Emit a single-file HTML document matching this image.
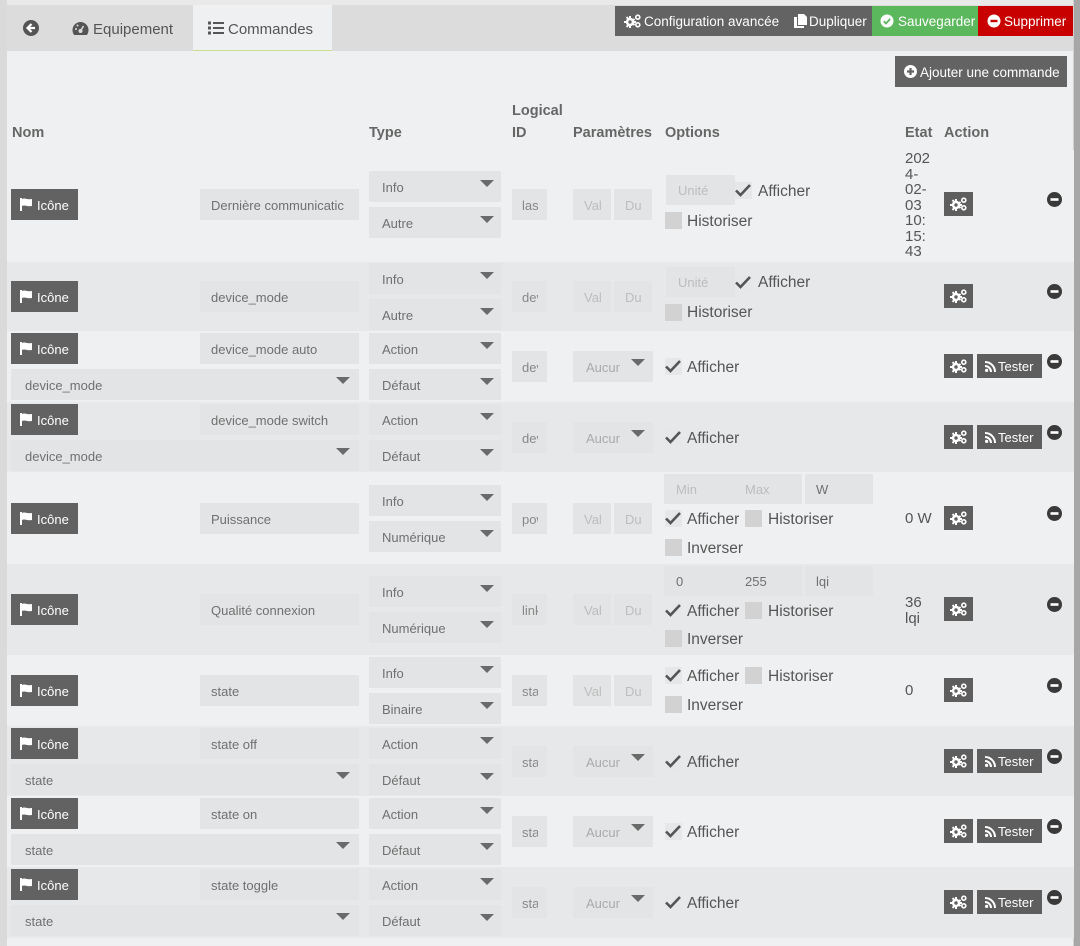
<!DOCTYPE html>
<html><head><meta charset="utf-8"><style>
*{box-sizing:border-box;margin:0;padding:0}
body{width:1080px;height:946px;overflow:hidden;position:relative;background:#eff0f1;font-family:"Liberation Sans",Arial,sans-serif;color:#666}
div{position:absolute}
svg{display:block}
.L{left:7px;width:1067px;background:#eff0f1}
.D{left:7px;width:1067px;background:#e7e8e9}
.in{background:#e3e4e5;height:31px;line-height:33px;font-size:13px;color:#707070;padding-left:11px;white-space:nowrap;overflow:hidden}
.ph{color:#bdbdbd}
.lg{color:#888}
.lg div{position:absolute;left:10px;top:0;width:16px;height:31px;overflow:hidden}
.cr{width:0;height:0;border-left:7px solid transparent;border-right:7px solid transparent;border-top:7px solid #6a6a6a;top:9px;right:7px}
.ic{left:11px;width:67px;height:31px;background:#626262;color:#fff;font-size:13px;line-height:33px}
.ic svg{position:absolute;left:9px;top:9px}
.ic b{position:absolute;left:26px;font-weight:normal}
.gr{left:944px;width:29px;height:24px;background:#5e5e5e}
.gr svg{position:absolute;left:6px;top:5px}
.ts{left:977px;width:65px;height:24px;background:#5e5e5e;color:#fff;font-size:13px;line-height:26px}
.ts svg{position:absolute;left:8px;top:7px}
.ts b{position:absolute;left:21px;font-weight:normal}
.mn{left:1047px;width:15px;height:15px}
.cb{width:17px;height:17px;background:#d2d2d2}
.ck{width:17px;height:17px;background:#e6e7e8}
.ck svg{position:absolute;left:-1px;top:0}
.lb{font-size:15.5px;color:#555;line-height:18px;white-space:nowrap}
.hd{font-size:14.5px;font-weight:bold;color:#666;line-height:18px;white-space:nowrap}
.et{left:905px;font-size:15px;color:#555;line-height:15.5px;white-space:nowrap}
.tb{top:6px;height:30px;line-height:32px;font-size:13.5px;color:#fff;white-space:nowrap}
.tb svg{position:absolute;top:8px}
.tb b{position:absolute;font-weight:normal}
.au{left:13px;top:0;width:34px;height:31px;overflow:hidden;color:#aaa}
</style></head><body>

<!-- frame -->
<div style="left:0;top:0;width:1080px;height:5px;background:#e9e9e9"></div>
<div style="left:7px;top:5px;width:1067px;height:46px;background:#dcdcdc"></div>
<div style="left:0;top:0;width:7px;height:946px;background:#dadada"></div>
<div style="left:1073px;top:0;width:1px;height:946px;background:#d0d0d0"></div>
<div style="left:1074px;top:0;width:6px;height:946px;background:#a7a7a7"></div>

<!-- tabs -->
<div style="left:23px;top:20px;width:16px;height:16px"><svg width="16" height="16"><circle cx="8" cy="8" r="8" fill="#555"/><path d="M8.5 4L4.5 8l4 4M4.8 8H12" stroke="#fff" stroke-width="2.2" fill="none"/></svg></div>
<div style="left:72px;top:21px;width:17px;height:15px"><svg width="17" height="15"><path d="M8.5 1A8 8 0 0 0 .5 9c0 2 .6 3.6 1.6 5h12.8c1-1.4 1.6-3 1.6-5a8 8 0 0 0-8-8z" fill="#555"/><circle cx="8.5" cy="10" r="2" fill="#dcdcdc"/><path d="M8.5 10l3-5" stroke="#dcdcdc" stroke-width="1.5"/><circle cx="4" cy="8" r="1" fill="#dcdcdc"/><circle cx="5.5" cy="4.5" r="1" fill="#dcdcdc"/></svg></div>
<div class="lb" style="left:93px;top:21px;font-size:15px">Equipement</div>
<div style="left:193px;top:5px;width:139px;height:46px;background:#eff0f1;border-bottom:1px solid #c9de8c"></div>
<div style="left:208px;top:21px;width:16px;height:14px"><svg width="16" height="14"><g fill="#555"><rect x="0" y="0.5" width="3" height="3"/><rect x="0" y="5.5" width="3" height="3"/><rect x="0" y="10.5" width="3" height="3"/><rect x="5" y="1" width="11" height="2"/><rect x="5" y="6" width="11" height="2"/><rect x="5" y="11" width="11" height="2"/></g></svg></div>
<div class="lb" style="left:228px;top:21px;font-size:15px">Commandes</div>

<!-- top buttons -->
<div class="tb" style="left:615px;width:172px;background:#636363"><svg style="left:9px" width="17" height="14" viewBox="0 0 17 14"><g fill="#fff"><circle cx="6" cy="8" r="4.2"/><path d="M5 2h2v12H5zM0 7h12v2H0z"/><path d="M1.8 3.8l1.4-1.4 8 8-1.4 1.4zM1.8 12.2l8-8 1.4 1.4-8 8z"/></g><circle cx="6" cy="8" r="1.7" fill="#636363"/><circle cx="13.8" cy="3.2" r="2" fill="none" stroke="#fff" stroke-width="1.6"/><circle cx="13.8" cy="10.8" r="2" fill="none" stroke="#fff" stroke-width="1.6"/></svg><b style="left:29px">Configuration avancée</b></div>
<div class="tb" style="left:787px;width:85px;background:#636363"><svg style="left:7px" width="13" height="14"><path d="M4 0h6l3 3v8H4z" fill="#fff"/><path d="M0 3h3v9h7v2H0z" fill="#fff"/></svg><b style="left:22px">Dupliquer</b></div>
<div class="tb" style="left:872px;width:106px;background:#5cb85c"><svg style="left:8px" width="14" height="14"><circle cx="7" cy="7" r="6.5" fill="#fff"/><path d="M3.8 7.2l2.2 2.2 4.2-4.4" stroke="#5cb85c" stroke-width="1.8" fill="none"/></svg><b style="left:26px">Sauvegarder</b></div>
<div class="tb" style="left:978px;width:95px;background:#c80000"><svg style="left:9px" width="14" height="14"><circle cx="7" cy="7" r="6.5" fill="#fff"/><rect x="3.5" y="5.8" width="7" height="2.4" fill="#c80000"/></svg><b style="left:26px">Supprimer</b></div>

<!-- ajouter -->
<div class="tb" style="left:895px;top:56px;width:172px;height:31px;line-height:33px;background:#636363"><svg style="left:9px;top:9px" width="13" height="13"><circle cx="6.5" cy="6.5" r="6.5" fill="#fff"/><path d="M6.5 3v7M3 6.5h7" stroke="#636363" stroke-width="2.2"/></svg><b style="left:25px">Ajouter une commande</b></div>

<!-- headers -->
<div class="hd" style="left:12px;top:124px">Nom</div>
<div class="hd" style="left:369px;top:124px">Type</div>
<div class="hd" style="left:512px;top:102px">Logical</div>
<div class="hd" style="left:512px;top:124px">ID</div>
<div class="hd" style="left:573px;top:124px">Paramètres</div>
<div class="hd" style="left:665px;top:124px">Options</div>
<div class="hd" style="left:905px;top:124px">Etat</div>
<div class="hd" style="left:944px;top:124px">Action</div>

<!-- row backgrounds -->
<div class="L" style="top:150px;height:112px"></div>
<div class="D" style="top:262px;height:69px"></div>
<div class="L" style="top:331px;height:71px"></div>
<div class="D" style="top:402px;height:70px"></div>
<div class="L" style="top:472px;height:92px"></div>
<div class="D" style="top:564px;height:91px"></div>
<div class="L" style="top:655px;height:71px"></div>
<div class="D" style="top:726px;height:70px"></div>
<div class="L" style="top:796px;height:71px"></div>
<div class="D" style="top:867px;height:71px"></div>

<!-- ===== R1 (s=171) ===== -->
<div class="ic" style="top:189px"><svg width="13" height="13"><path d="M0 0h2v13H0zM2 1c3-1.5 5 1 10 0v7c-5 1-7-1.5-10 0z" fill="#fff"/></svg><b>Icône</b></div>
<div class="in" style="left:200px;top:189px;width:159px">Dernière communicatic</div>
<div class="in" style="left:369px;top:171px;width:132px;padding-left:13px">Info<div class="cr"></div></div>
<div class="in" style="left:369px;top:207px;width:132px;padding-left:13px">Autre<div class="cr"></div></div>
<div class="in lg" style="left:512px;top:189px;width:35px"><div>last</div></div>
<div class="in ph" style="left:573px;top:189px;width:38px">Val</div>
<div class="in ph" style="left:614px;top:189px;width:38px">Du</div>
<div class="in ph" style="left:666px;top:175px;width:69px;height:30px;line-height:32px;padding-left:12px">Unité</div>
<div class="ck" style="left:735px;top:182px"><svg width="18" height="17"><path d="M2 8.5l4.5 4.5L16 3" stroke="#555" stroke-width="2.6" fill="none"/></svg></div>
<div class="lb" style="left:758px;top:183px">Afficher</div>
<div class="cb" style="left:665px;top:212px"></div>
<div class="lb" style="left:687px;top:213px">Historiser</div>
<div class="et" style="top:151px">202<br>4-<br>02-<br>03<br>10:<br>15:<br>43</div>
<div class="gr" style="top:192px"><svg width="17" height="14" viewBox="0 0 17 14"><g fill="#fff"><circle cx="6" cy="8" r="4.2"/><path d="M5 2h2v12H5zM0 7h12v2H0z"/><path d="M1.8 3.8l1.4-1.4 8 8-1.4 1.4zM1.8 12.2l8-8 1.4 1.4-8 8z"/></g><circle cx="6" cy="8" r="1.7" fill="#5e5e5e"/><circle cx="13.8" cy="3.2" r="2" fill="none" stroke="#fff" stroke-width="1.6"/><circle cx="13.8" cy="10.8" r="2" fill="none" stroke="#fff" stroke-width="1.6"/></svg></div>
<div class="mn" style="top:192px"><svg width="15" height="15"><circle cx="7.5" cy="7.5" r="7.5" fill="#3a3a3a"/><rect x="3.5" y="6.2" width="8" height="2.6" fill="#fff"/></svg></div>

<!-- ===== R2 (s=263) ===== -->
<div class="ic" style="top:281px"><svg width="13" height="13"><path d="M0 0h2v13H0zM2 1c3-1.5 5 1 10 0v7c-5 1-7-1.5-10 0z" fill="#fff"/></svg><b>Icône</b></div>
<div class="in" style="left:200px;top:281px;width:159px">device_mode</div>
<div class="in" style="left:369px;top:263px;width:132px;padding-left:13px">Info<div class="cr"></div></div>
<div class="in" style="left:369px;top:299px;width:132px;padding-left:13px">Autre<div class="cr"></div></div>
<div class="in lg" style="left:512px;top:281px;width:35px"><div>device_mode</div></div>
<div class="in ph" style="left:573px;top:281px;width:38px">Val</div>
<div class="in ph" style="left:614px;top:281px;width:38px">Du</div>
<div class="in ph" style="left:666px;top:267px;width:69px;height:30px;line-height:32px;padding-left:12px">Unité</div>
<div class="ck" style="left:735px;top:274px"><svg width="18" height="17"><path d="M2 8.5l4.5 4.5L16 3" stroke="#555" stroke-width="2.6" fill="none"/></svg></div>
<div class="lb" style="left:758px;top:274px">Afficher</div>
<div class="cb" style="left:665px;top:304px"></div>
<div class="lb" style="left:687px;top:304px">Historiser</div>
<div class="gr" style="top:284px"><svg width="17" height="14" viewBox="0 0 17 14"><g fill="#fff"><circle cx="6" cy="8" r="4.2"/><path d="M5 2h2v12H5zM0 7h12v2H0z"/><path d="M1.8 3.8l1.4-1.4 8 8-1.4 1.4zM1.8 12.2l8-8 1.4 1.4-8 8z"/></g><circle cx="6" cy="8" r="1.7" fill="#5e5e5e"/><circle cx="13.8" cy="3.2" r="2" fill="none" stroke="#fff" stroke-width="1.6"/><circle cx="13.8" cy="10.8" r="2" fill="none" stroke="#fff" stroke-width="1.6"/></svg></div>
<div class="mn" style="top:284px"><svg width="15" height="15"><circle cx="7.5" cy="7.5" r="7.5" fill="#3a3a3a"/><rect x="3.5" y="6.2" width="8" height="2.6" fill="#fff"/></svg></div>

<!-- ===== R3 (T=331) ===== -->
<div class="ic" style="top:333px"><svg width="13" height="13"><path d="M0 0h2v13H0zM2 1c3-1.5 5 1 10 0v7c-5 1-7-1.5-10 0z" fill="#fff"/></svg><b>Icône</b></div>
<div class="in" style="left:200px;top:333px;width:159px">device_mode auto</div>
<div class="in" style="left:369px;top:333px;width:132px;padding-left:13px">Action<div class="cr"></div></div>
<div class="in" style="left:11px;top:369px;width:348px;padding-left:14px">device_mode<div class="cr" style="top:8px;right:9px"></div></div>
<div class="in" style="left:369px;top:369px;width:132px;padding-left:13px">Défaut<div class="cr"></div></div>
<div class="in lg" style="left:512px;top:351px;width:35px"><div>device_mode</div></div>
<div class="in ph" style="left:573px;top:351px;width:80px;padding-left:0"><div class="au">Aucun</div><div class="cr" style="right:8px;top:8px"></div></div>
<div class="ck" style="left:665px;top:358px"><svg width="18" height="17"><path d="M2 8.5l4.5 4.5L16 3" stroke="#555" stroke-width="2.6" fill="none"/></svg></div>
<div class="lb" style="left:687px;top:359px">Afficher</div>
<div class="gr" style="top:354px"><svg width="17" height="14" viewBox="0 0 17 14"><g fill="#fff"><circle cx="6" cy="8" r="4.2"/><path d="M5 2h2v12H5zM0 7h12v2H0z"/><path d="M1.8 3.8l1.4-1.4 8 8-1.4 1.4zM1.8 12.2l8-8 1.4 1.4-8 8z"/></g><circle cx="6" cy="8" r="1.7" fill="#5e5e5e"/><circle cx="13.8" cy="3.2" r="2" fill="none" stroke="#fff" stroke-width="1.6"/><circle cx="13.8" cy="10.8" r="2" fill="none" stroke="#fff" stroke-width="1.6"/></svg></div>
<div class="ts" style="top:354px"><svg width="11" height="11"><circle cx="1.6" cy="9.4" r="1.6" fill="#fff"/><path d="M0 5a6 6 0 0 1 6 6M0 1a10 10 0 0 1 10 10" stroke="#fff" stroke-width="2" fill="none"/></svg><b>Tester</b></div>
<div class="mn" style="top:354px"><svg width="15" height="15"><circle cx="7.5" cy="7.5" r="7.5" fill="#3a3a3a"/><rect x="3.5" y="6.2" width="8" height="2.6" fill="#fff"/></svg></div>

<!-- ===== R4 (T=402) ===== -->
<div class="ic" style="top:404px"><svg width="13" height="13"><path d="M0 0h2v13H0zM2 1c3-1.5 5 1 10 0v7c-5 1-7-1.5-10 0z" fill="#fff"/></svg><b>Icône</b></div>
<div class="in" style="left:200px;top:404px;width:159px">device_mode switch</div>
<div class="in" style="left:369px;top:404px;width:132px;padding-left:13px">Action<div class="cr"></div></div>
<div class="in" style="left:11px;top:440px;width:348px;padding-left:14px">device_mode<div class="cr" style="top:8px;right:9px"></div></div>
<div class="in" style="left:369px;top:440px;width:132px;padding-left:13px">Défaut<div class="cr"></div></div>
<div class="in lg" style="left:512px;top:422px;width:35px"><div>device_mode</div></div>
<div class="in ph" style="left:573px;top:422px;width:80px;padding-left:0"><div class="au">Aucun</div><div class="cr" style="right:8px;top:8px"></div></div>
<div class="ck" style="left:665px;top:429px"><svg width="18" height="17"><path d="M2 8.5l4.5 4.5L16 3" stroke="#555" stroke-width="2.6" fill="none"/></svg></div>
<div class="lb" style="left:687px;top:430px">Afficher</div>
<div class="gr" style="top:425px"><svg width="17" height="14" viewBox="0 0 17 14"><g fill="#fff"><circle cx="6" cy="8" r="4.2"/><path d="M5 2h2v12H5zM0 7h12v2H0z"/><path d="M1.8 3.8l1.4-1.4 8 8-1.4 1.4zM1.8 12.2l8-8 1.4 1.4-8 8z"/></g><circle cx="6" cy="8" r="1.7" fill="#5e5e5e"/><circle cx="13.8" cy="3.2" r="2" fill="none" stroke="#fff" stroke-width="1.6"/><circle cx="13.8" cy="10.8" r="2" fill="none" stroke="#fff" stroke-width="1.6"/></svg></div>
<div class="ts" style="top:425px"><svg width="11" height="11"><circle cx="1.6" cy="9.4" r="1.6" fill="#fff"/><path d="M0 5a6 6 0 0 1 6 6M0 1a10 10 0 0 1 10 10" stroke="#fff" stroke-width="2" fill="none"/></svg><b>Tester</b></div>
<div class="mn" style="top:425px"><svg width="15" height="15"><circle cx="7.5" cy="7.5" r="7.5" fill="#3a3a3a"/><rect x="3.5" y="6.2" width="8" height="2.6" fill="#fff"/></svg></div>

<!-- ===== R5 Puissance (s=485) ===== -->
<div class="ic" style="top:503px"><svg width="13" height="13"><path d="M0 0h2v13H0zM2 1c3-1.5 5 1 10 0v7c-5 1-7-1.5-10 0z" fill="#fff"/></svg><b>Icône</b></div>
<div class="in" style="left:200px;top:503px;width:159px">Puissance</div>
<div class="in" style="left:369px;top:485px;width:132px;padding-left:13px">Info<div class="cr"></div></div>
<div class="in" style="left:369px;top:521px;width:132px;padding-left:13px">Numérique<div class="cr"></div></div>
<div class="in lg" style="left:512px;top:503px;width:35px"><div>power</div></div>
<div class="in ph" style="left:573px;top:503px;width:38px">Val</div>
<div class="in ph" style="left:614px;top:503px;width:38px">Du</div>
<div class="in ph" style="left:664px;top:474px;width:69px;height:30px;line-height:32px;padding-left:12px">Min</div>
<div class="in ph" style="left:733px;top:474px;width:69px;height:30px;line-height:32px;padding-left:12px">Max</div>
<div class="in" style="left:805px;top:474px;width:68px;height:30px;line-height:32px;padding-left:11px">W</div>
<div class="ck" style="left:665px;top:510px"><svg width="18" height="17"><path d="M2 8.5l4.5 4.5L16 3" stroke="#555" stroke-width="2.6" fill="none"/></svg></div>
<div class="lb" style="left:687px;top:511px">Afficher</div>
<div class="cb" style="left:745px;top:510px"></div>
<div class="lb" style="left:768px;top:511px">Historiser</div>
<div class="cb" style="left:665px;top:539px"></div>
<div class="lb" style="left:687px;top:540px">Inverser</div>
<div class="et" style="top:511px">0 W</div>
<div class="gr" style="top:506px"><svg width="17" height="14" viewBox="0 0 17 14"><g fill="#fff"><circle cx="6" cy="8" r="4.2"/><path d="M5 2h2v12H5zM0 7h12v2H0z"/><path d="M1.8 3.8l1.4-1.4 8 8-1.4 1.4zM1.8 12.2l8-8 1.4 1.4-8 8z"/></g><circle cx="6" cy="8" r="1.7" fill="#5e5e5e"/><circle cx="13.8" cy="3.2" r="2" fill="none" stroke="#fff" stroke-width="1.6"/><circle cx="13.8" cy="10.8" r="2" fill="none" stroke="#fff" stroke-width="1.6"/></svg></div>
<div class="mn" style="top:506px"><svg width="15" height="15"><circle cx="7.5" cy="7.5" r="7.5" fill="#3a3a3a"/><rect x="3.5" y="6.2" width="8" height="2.6" fill="#fff"/></svg></div>

<!-- ===== R6 Qualité (s=576) ===== -->
<div class="ic" style="top:594px"><svg width="13" height="13"><path d="M0 0h2v13H0zM2 1c3-1.5 5 1 10 0v7c-5 1-7-1.5-10 0z" fill="#fff"/></svg><b>Icône</b></div>
<div class="in" style="left:200px;top:594px;width:159px">Qualité connexion</div>
<div class="in" style="left:369px;top:576px;width:132px;padding-left:13px">Info<div class="cr"></div></div>
<div class="in" style="left:369px;top:612px;width:132px;padding-left:13px">Numérique<div class="cr"></div></div>
<div class="in lg" style="left:512px;top:594px;width:35px"><div>linkquality</div></div>
<div class="in ph" style="left:573px;top:594px;width:38px">Val</div>
<div class="in ph" style="left:614px;top:594px;width:38px">Du</div>
<div class="in" style="left:664px;top:566px;width:69px;height:30px;line-height:32px;padding-left:12px">0</div>
<div class="in" style="left:733px;top:566px;width:69px;height:30px;line-height:32px;padding-left:12px">255</div>
<div class="in" style="left:805px;top:566px;width:68px;height:30px;line-height:32px;padding-left:11px">lqi</div>
<div class="ck" style="left:665px;top:602px"><svg width="18" height="17"><path d="M2 8.5l4.5 4.5L16 3" stroke="#555" stroke-width="2.6" fill="none"/></svg></div>
<div class="lb" style="left:687px;top:603px">Afficher</div>
<div class="cb" style="left:745px;top:602px"></div>
<div class="lb" style="left:768px;top:603px">Historiser</div>
<div class="cb" style="left:665px;top:630px"></div>
<div class="lb" style="left:687px;top:631px">Inverser</div>
<div class="et" style="top:595px">36<br>lqi</div>
<div class="gr" style="top:597px"><svg width="17" height="14" viewBox="0 0 17 14"><g fill="#fff"><circle cx="6" cy="8" r="4.2"/><path d="M5 2h2v12H5zM0 7h12v2H0z"/><path d="M1.8 3.8l1.4-1.4 8 8-1.4 1.4zM1.8 12.2l8-8 1.4 1.4-8 8z"/></g><circle cx="6" cy="8" r="1.7" fill="#5e5e5e"/><circle cx="13.8" cy="3.2" r="2" fill="none" stroke="#fff" stroke-width="1.6"/><circle cx="13.8" cy="10.8" r="2" fill="none" stroke="#fff" stroke-width="1.6"/></svg></div>
<div class="mn" style="top:597px"><svg width="15" height="15"><circle cx="7.5" cy="7.5" r="7.5" fill="#3a3a3a"/><rect x="3.5" y="6.2" width="8" height="2.6" fill="#fff"/></svg></div>

<!-- ===== R7 state (s=657) ===== -->
<div class="ic" style="top:675px"><svg width="13" height="13"><path d="M0 0h2v13H0zM2 1c3-1.5 5 1 10 0v7c-5 1-7-1.5-10 0z" fill="#fff"/></svg><b>Icône</b></div>
<div class="in" style="left:200px;top:675px;width:159px">state</div>
<div class="in" style="left:369px;top:657px;width:132px;padding-left:13px">Info<div class="cr"></div></div>
<div class="in" style="left:369px;top:693px;width:132px;padding-left:13px">Binaire<div class="cr"></div></div>
<div class="in lg" style="left:512px;top:675px;width:35px"><div>state</div></div>
<div class="in ph" style="left:573px;top:675px;width:38px">Val</div>
<div class="in ph" style="left:614px;top:675px;width:38px">Du</div>
<div class="ck" style="left:665px;top:667px"><svg width="18" height="17"><path d="M2 8.5l4.5 4.5L16 3" stroke="#555" stroke-width="2.6" fill="none"/></svg></div>
<div class="lb" style="left:687px;top:668px">Afficher</div>
<div class="cb" style="left:745px;top:667px"></div>
<div class="lb" style="left:768px;top:668px">Historiser</div>
<div class="cb" style="left:665px;top:696px"></div>
<div class="lb" style="left:687px;top:697px">Inverser</div>
<div class="et" style="top:683px">0</div>
<div class="gr" style="top:678px"><svg width="17" height="14" viewBox="0 0 17 14"><g fill="#fff"><circle cx="6" cy="8" r="4.2"/><path d="M5 2h2v12H5zM0 7h12v2H0z"/><path d="M1.8 3.8l1.4-1.4 8 8-1.4 1.4zM1.8 12.2l8-8 1.4 1.4-8 8z"/></g><circle cx="6" cy="8" r="1.7" fill="#5e5e5e"/><circle cx="13.8" cy="3.2" r="2" fill="none" stroke="#fff" stroke-width="1.6"/><circle cx="13.8" cy="10.8" r="2" fill="none" stroke="#fff" stroke-width="1.6"/></svg></div>
<div class="mn" style="top:678px"><svg width="15" height="15"><circle cx="7.5" cy="7.5" r="7.5" fill="#3a3a3a"/><rect x="3.5" y="6.2" width="8" height="2.6" fill="#fff"/></svg></div>

<!-- ===== R8 state off (T=726) ===== -->
<div class="ic" style="top:728px"><svg width="13" height="13"><path d="M0 0h2v13H0zM2 1c3-1.5 5 1 10 0v7c-5 1-7-1.5-10 0z" fill="#fff"/></svg><b>Icône</b></div>
<div class="in" style="left:200px;top:728px;width:159px">state off</div>
<div class="in" style="left:369px;top:728px;width:132px;padding-left:13px">Action<div class="cr"></div></div>
<div class="in" style="left:11px;top:764px;width:348px;padding-left:14px">state<div class="cr" style="top:8px;right:9px"></div></div>
<div class="in" style="left:369px;top:764px;width:132px;padding-left:13px">Défaut<div class="cr"></div></div>
<div class="in lg" style="left:512px;top:746px;width:35px"><div>state</div></div>
<div class="in ph" style="left:573px;top:746px;width:80px;padding-left:0"><div class="au">Aucun</div><div class="cr" style="right:8px;top:8px"></div></div>
<div class="ck" style="left:665px;top:753px"><svg width="18" height="17"><path d="M2 8.5l4.5 4.5L16 3" stroke="#555" stroke-width="2.6" fill="none"/></svg></div>
<div class="lb" style="left:687px;top:754px">Afficher</div>
<div class="gr" style="top:749px"><svg width="17" height="14" viewBox="0 0 17 14"><g fill="#fff"><circle cx="6" cy="8" r="4.2"/><path d="M5 2h2v12H5zM0 7h12v2H0z"/><path d="M1.8 3.8l1.4-1.4 8 8-1.4 1.4zM1.8 12.2l8-8 1.4 1.4-8 8z"/></g><circle cx="6" cy="8" r="1.7" fill="#5e5e5e"/><circle cx="13.8" cy="3.2" r="2" fill="none" stroke="#fff" stroke-width="1.6"/><circle cx="13.8" cy="10.8" r="2" fill="none" stroke="#fff" stroke-width="1.6"/></svg></div>
<div class="ts" style="top:749px"><svg width="11" height="11"><circle cx="1.6" cy="9.4" r="1.6" fill="#fff"/><path d="M0 5a6 6 0 0 1 6 6M0 1a10 10 0 0 1 10 10" stroke="#fff" stroke-width="2" fill="none"/></svg><b>Tester</b></div>
<div class="mn" style="top:749px"><svg width="15" height="15"><circle cx="7.5" cy="7.5" r="7.5" fill="#3a3a3a"/><rect x="3.5" y="6.2" width="8" height="2.6" fill="#fff"/></svg></div>

<!-- ===== R9 state on (T=796) ===== -->
<div class="ic" style="top:798px"><svg width="13" height="13"><path d="M0 0h2v13H0zM2 1c3-1.5 5 1 10 0v7c-5 1-7-1.5-10 0z" fill="#fff"/></svg><b>Icône</b></div>
<div class="in" style="left:200px;top:798px;width:159px">state on</div>
<div class="in" style="left:369px;top:798px;width:132px;padding-left:13px">Action<div class="cr"></div></div>
<div class="in" style="left:11px;top:834px;width:348px;padding-left:14px">state<div class="cr" style="top:8px;right:9px"></div></div>
<div class="in" style="left:369px;top:834px;width:132px;padding-left:13px">Défaut<div class="cr"></div></div>
<div class="in lg" style="left:512px;top:816px;width:35px"><div>state</div></div>
<div class="in ph" style="left:573px;top:816px;width:80px;padding-left:0"><div class="au">Aucun</div><div class="cr" style="right:8px;top:8px"></div></div>
<div class="ck" style="left:665px;top:823px"><svg width="18" height="17"><path d="M2 8.5l4.5 4.5L16 3" stroke="#555" stroke-width="2.6" fill="none"/></svg></div>
<div class="lb" style="left:687px;top:824px">Afficher</div>
<div class="gr" style="top:819px"><svg width="17" height="14" viewBox="0 0 17 14"><g fill="#fff"><circle cx="6" cy="8" r="4.2"/><path d="M5 2h2v12H5zM0 7h12v2H0z"/><path d="M1.8 3.8l1.4-1.4 8 8-1.4 1.4zM1.8 12.2l8-8 1.4 1.4-8 8z"/></g><circle cx="6" cy="8" r="1.7" fill="#5e5e5e"/><circle cx="13.8" cy="3.2" r="2" fill="none" stroke="#fff" stroke-width="1.6"/><circle cx="13.8" cy="10.8" r="2" fill="none" stroke="#fff" stroke-width="1.6"/></svg></div>
<div class="ts" style="top:819px"><svg width="11" height="11"><circle cx="1.6" cy="9.4" r="1.6" fill="#fff"/><path d="M0 5a6 6 0 0 1 6 6M0 1a10 10 0 0 1 10 10" stroke="#fff" stroke-width="2" fill="none"/></svg><b>Tester</b></div>
<div class="mn" style="top:819px"><svg width="15" height="15"><circle cx="7.5" cy="7.5" r="7.5" fill="#3a3a3a"/><rect x="3.5" y="6.2" width="8" height="2.6" fill="#fff"/></svg></div>

<!-- ===== R10 state toggle (T=867) ===== -->
<div class="ic" style="top:869px"><svg width="13" height="13"><path d="M0 0h2v13H0zM2 1c3-1.5 5 1 10 0v7c-5 1-7-1.5-10 0z" fill="#fff"/></svg><b>Icône</b></div>
<div class="in" style="left:200px;top:869px;width:159px">state toggle</div>
<div class="in" style="left:369px;top:869px;width:132px;padding-left:13px">Action<div class="cr"></div></div>
<div class="in" style="left:11px;top:905px;width:348px;padding-left:14px">state<div class="cr" style="top:8px;right:9px"></div></div>
<div class="in" style="left:369px;top:905px;width:132px;padding-left:13px">Défaut<div class="cr"></div></div>
<div class="in lg" style="left:512px;top:887px;width:35px"><div>state</div></div>
<div class="in ph" style="left:573px;top:887px;width:80px;padding-left:0"><div class="au">Aucun</div><div class="cr" style="right:8px;top:8px"></div></div>
<div class="ck" style="left:665px;top:894px"><svg width="18" height="17"><path d="M2 8.5l4.5 4.5L16 3" stroke="#555" stroke-width="2.6" fill="none"/></svg></div>
<div class="lb" style="left:687px;top:895px">Afficher</div>
<div class="gr" style="top:890px"><svg width="17" height="14" viewBox="0 0 17 14"><g fill="#fff"><circle cx="6" cy="8" r="4.2"/><path d="M5 2h2v12H5zM0 7h12v2H0z"/><path d="M1.8 3.8l1.4-1.4 8 8-1.4 1.4zM1.8 12.2l8-8 1.4 1.4-8 8z"/></g><circle cx="6" cy="8" r="1.7" fill="#5e5e5e"/><circle cx="13.8" cy="3.2" r="2" fill="none" stroke="#fff" stroke-width="1.6"/><circle cx="13.8" cy="10.8" r="2" fill="none" stroke="#fff" stroke-width="1.6"/></svg></div>
<div class="ts" style="top:890px"><svg width="11" height="11"><circle cx="1.6" cy="9.4" r="1.6" fill="#fff"/><path d="M0 5a6 6 0 0 1 6 6M0 1a10 10 0 0 1 10 10" stroke="#fff" stroke-width="2" fill="none"/></svg><b>Tester</b></div>
<div class="mn" style="top:890px"><svg width="15" height="15"><circle cx="7.5" cy="7.5" r="7.5" fill="#3a3a3a"/><rect x="3.5" y="6.2" width="8" height="2.6" fill="#fff"/></svg></div>

</body></html>
